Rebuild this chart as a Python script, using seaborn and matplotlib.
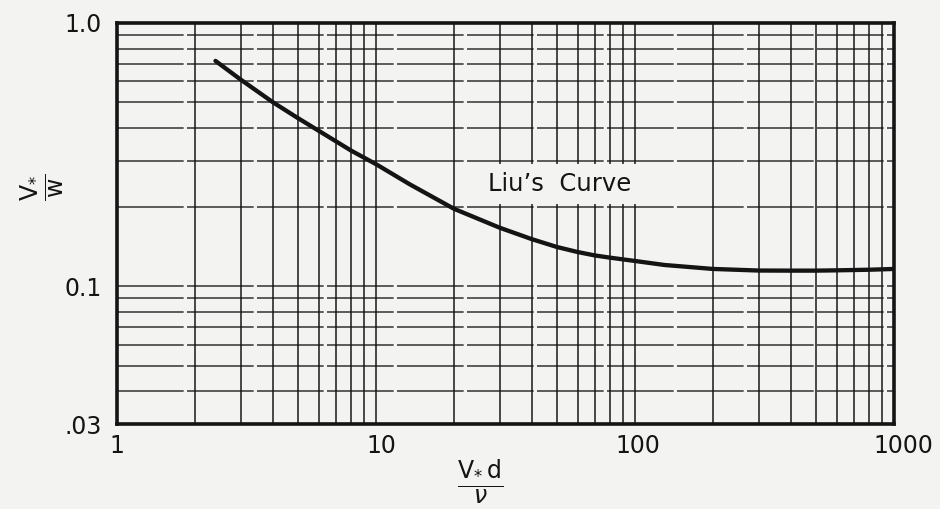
import numpy as np
import pandas as pd
import matplotlib
matplotlib.use("Agg")
import matplotlib.pyplot as plt
from matplotlib.ticker import FixedLocator, NullFormatter, FixedFormatter
from matplotlib.transforms import ScaledTranslation
import seaborn as sns

# ---- data ----
reynolds = [2.4, 3, 4, 5, 6, 8, 10, 13.5, 20, 30, 40, 50, 60, 70, 80, 100, 130,
            200, 300, 400, 500, 600, 800, 1000]
ratio = [0.718, 0.61, 0.50, 0.435, 0.39, 0.328, 0.291, 0.244, 0.197, 0.167, 0.151, 0.141,
         0.135, 0.131, 0.1285, 0.1248, 0.1205, 0.1164, 0.1148, 0.1147, 0.1147, 0.115,
         0.1156, 0.1164]

x_ticks = [1, 10, 100, 1000]
x_tick_labels = ["1", "10", "100", "1000"]
y_ticks = [0.03, 0.1, 1.0]
y_tick_labels = [".03", "0.1", "1.0"]
x_minor = [2, 3, 4, 5, 6, 7, 8, 9, 20, 30, 40, 50, 60, 70, 80, 90,
           200, 300, 400, 500, 600, 700, 800, 900]
y_minor = [0.04, 0.05, 0.06, 0.07, 0.08, 0.09, 0.2, 0.3, 0.4, 0.5, 0.6, 0.7, 0.8, 0.9]
curve_label = "Liu\u2019s  Curve"

df = pd.DataFrame({"Re": reynolds, "ratio": ratio})

sns.set_theme(style="white")
plt.rcParams["font.family"] = ["DejaVu Sans"]
plt.rcParams["mathtext.fontset"] = "dejavusans"

paper = "#f3f3f1"
ink = "#141414"

fig = plt.figure(figsize=(9.4, 5.09), dpi=100, facecolor=paper)
ax = fig.add_axes([117 / 940, 1 - 424 / 509, (894 - 117) / 940, (424 - 23) / 509])
ax.set_facecolor(paper)

ax.set_xscale("log")
ax.set_yscale("log")
ax.set_xlim(1, 1000)
ax.set_ylim(0.03, 1.0)

ax.xaxis.set_major_locator(FixedLocator(x_ticks))
ax.xaxis.set_major_formatter(FixedFormatter(x_tick_labels))
ax.xaxis.set_minor_locator(FixedLocator(x_minor))
ax.xaxis.set_minor_formatter(NullFormatter())
ax.yaxis.set_major_locator(FixedLocator(y_ticks))
ax.yaxis.set_major_formatter(FixedFormatter(y_tick_labels))
ax.yaxis.set_minor_locator(FixedLocator(y_minor))
ax.yaxis.set_minor_formatter(NullFormatter())

ax.grid(True, which="both", axis="x", color=ink, linewidth=1.2, alpha=0.9, zorder=0)
ax.grid(True, which="both", axis="y", color=ink, linewidth=1.2, alpha=0.8,
        linestyle=(0, (40, 2)), zorder=0)

ax.tick_params(which="both", length=0)
ax.tick_params(axis="x", pad=7, labelsize=17, colors=ink)
ax.tick_params(axis="y", pad=11, labelsize=17, colors=ink)

for sp in ax.spines.values():
    sp.set_visible(True)
    sp.set_color(ink)
    sp.set_linewidth(2.6)

sns.lineplot(data=df, x="Re", y="ratio", ax=ax, color=ink, linewidth=3.1, zorder=3)
ax.set_xlabel("")
ax.set_ylabel("")

# small hand-lettered offsets of the x tick labels
fig.canvas.draw()
for lbl, dx in zip(ax.get_xticklabels(), [0, 5, 3, 9]):
    lbl.set_transform(lbl.get_transform() + ScaledTranslation(dx / 100, 0, fig.dpi_scale_trans))

ax.text(51, 0.245, curve_label, ha="center", va="center", fontsize=17.5, color=ink,
        zorder=4, bbox=dict(facecolor=paper, edgecolor="none", pad=6))

ax.text(-0.0965, 0.591, r"$\dfrac{\mathrm{V}_{*}}{\mathrm{w}}$", transform=ax.transAxes,
        rotation=90, ha="center", va="center", fontsize=17, color=ink)
ax.text(0.467, -0.145, r"$\dfrac{\mathrm{V}_{*}\,\mathrm{d}}{\nu}$", transform=ax.transAxes,
        ha="center", va="center", fontsize=17, color=ink, clip_on=False)

fig.savefig("out.png", dpi=100, facecolor=paper)
